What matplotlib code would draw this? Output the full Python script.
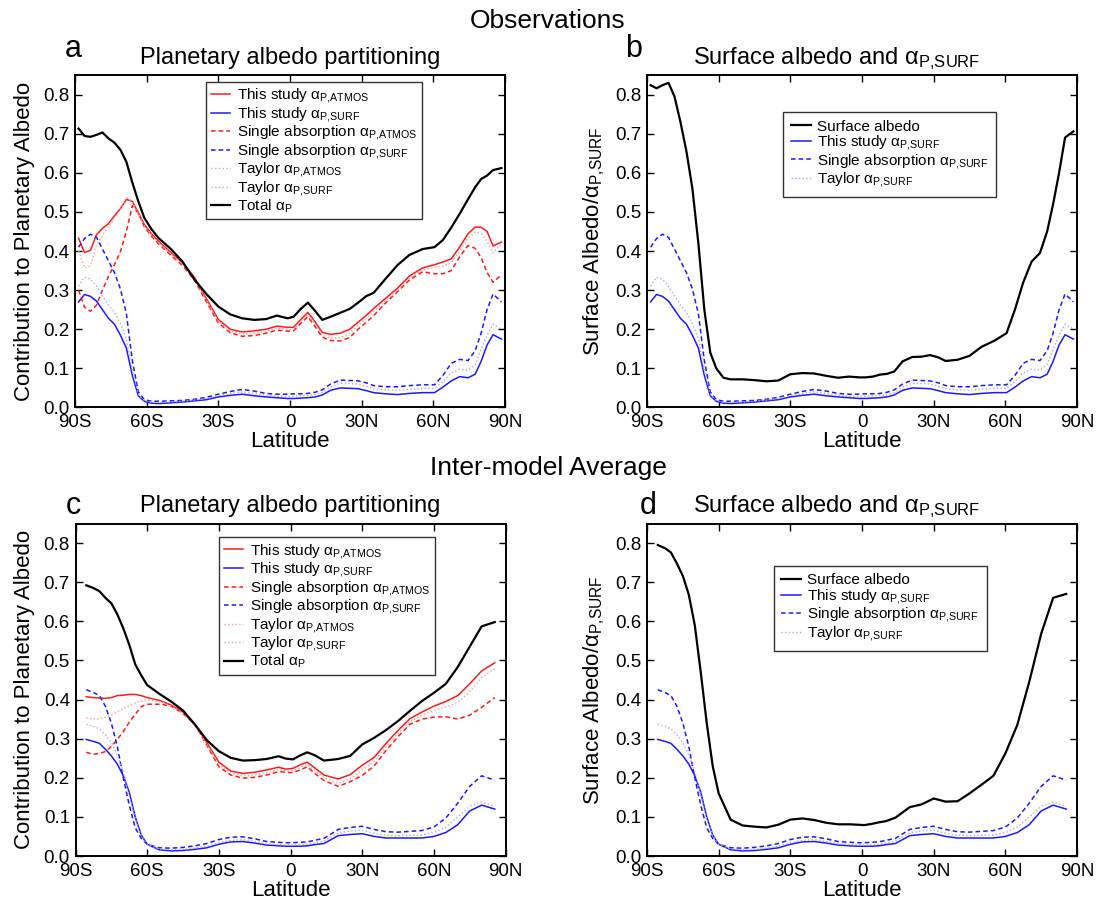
import numpy as np
import matplotlib
matplotlib.use("Agg")
import matplotlib.pyplot as plt

plt.rcParams['font.family'] = ['Liberation Sans', 'DejaVu Sans']
plt.rcParams['mathtext.fontset'] = 'custom'
plt.rcParams['mathtext.rm'] = 'Liberation Sans'
plt.rcParams['mathtext.it'] = 'Liberation Sans:italic'
plt.rcParams['mathtext.bf'] = 'Liberation Sans:bold'

# ---- Observations (panels a, b) ----
lat_obs = [-88.5, -86, -83.5, -81, -78.5, -76, -73.5, -71, -68.5, -66,
           -63.5, -61, -58, -55, -50, -45, -40, -35, -30, -25,
           -20, -15, -10, -5.5, -1, 1.5, 4.5, 7.5, 10.5, 13.5,
           17, 21, 25, 28.5, 32, 35, 40, 45, 50, 55.5,
           60.5, 64, 67.5, 71, 74.5, 77.5, 80, 82.5, 85, 88.5]
obs_total = [0.713, 0.694, 0.692, 0.697, 0.703, 0.688, 0.677, 0.659, 0.628, 0.575,
             0.527, 0.485, 0.456, 0.433, 0.406, 0.373, 0.327, 0.290, 0.258, 0.238,
             0.228, 0.224, 0.226, 0.235, 0.228, 0.232, 0.252, 0.268, 0.247, 0.224,
             0.232, 0.242, 0.252, 0.268, 0.285, 0.293, 0.329, 0.364, 0.390, 0.405,
             0.410, 0.428, 0.460, 0.495, 0.532, 0.563, 0.584, 0.593, 0.607, 0.612]
obs_atm = [0.433, 0.396, 0.402, 0.442, 0.458, 0.470, 0.490, 0.508, 0.532, 0.527,
           0.498, 0.468, 0.444, 0.425, 0.397, 0.370, 0.333, 0.278, 0.225, 0.200,
           0.193, 0.196, 0.200, 0.208, 0.205, 0.205, 0.225, 0.243, 0.219, 0.192,
           0.187, 0.190, 0.200, 0.218, 0.236, 0.253, 0.279, 0.305, 0.336, 0.357,
           0.365, 0.372, 0.380, 0.410, 0.444, 0.461, 0.461, 0.450, 0.413, 0.423]
obs_atm_single = [0.300, 0.256, 0.246, 0.262, 0.300, 0.335, 0.365, 0.398, 0.450, 0.516,
                  0.497, 0.462, 0.438, 0.418, 0.390, 0.363, 0.326, 0.270, 0.216, 0.191,
                  0.182, 0.184, 0.190, 0.198, 0.195, 0.196, 0.215, 0.232, 0.207, 0.180,
                  0.171, 0.170, 0.179, 0.200, 0.218, 0.235, 0.267, 0.296, 0.326, 0.347,
                  0.342, 0.342, 0.350, 0.385, 0.414, 0.407, 0.383, 0.345, 0.320, 0.339]
obs_atm_taylor = [0.400, 0.357, 0.362, 0.415, 0.440, 0.462, 0.485, 0.505, 0.538, 0.525,
                  0.495, 0.465, 0.441, 0.422, 0.394, 0.367, 0.330, 0.275, 0.221, 0.195,
                  0.187, 0.190, 0.195, 0.203, 0.200, 0.200, 0.220, 0.238, 0.213, 0.186,
                  0.178, 0.178, 0.190, 0.210, 0.228, 0.246, 0.273, 0.300, 0.331, 0.352,
                  0.358, 0.362, 0.370, 0.400, 0.433, 0.448, 0.445, 0.425, 0.395, 0.418]
obs_surf = [0.270, 0.289, 0.284, 0.272, 0.250, 0.228, 0.213, 0.185, 0.152, 0.082,
            0.030, 0.016, 0.011, 0.010, 0.012, 0.014, 0.017, 0.020, 0.027, 0.031,
            0.034, 0.030, 0.027, 0.025, 0.023, 0.023, 0.024, 0.025, 0.027, 0.032,
            0.044, 0.050, 0.049, 0.048, 0.043, 0.038, 0.035, 0.033, 0.036, 0.038,
            0.038, 0.052, 0.068, 0.079, 0.076, 0.085, 0.118, 0.160, 0.186, 0.175]
obs_surf_single = [0.410, 0.432, 0.443, 0.435, 0.405, 0.375, 0.345, 0.303, 0.240, 0.120,
                   0.040, 0.020, 0.016, 0.016, 0.017, 0.018, 0.021, 0.026, 0.034, 0.041,
                   0.046, 0.042, 0.036, 0.034, 0.034, 0.035, 0.035, 0.036, 0.039, 0.045,
                   0.060, 0.070, 0.069, 0.068, 0.063, 0.056, 0.053, 0.053, 0.056, 0.058,
                   0.058, 0.082, 0.113, 0.123, 0.120, 0.145, 0.190, 0.250, 0.290, 0.270]
obs_surf_taylor = [0.310, 0.333, 0.328, 0.310, 0.285, 0.262, 0.243, 0.215, 0.175, 0.095,
                   0.033, 0.018, 0.013, 0.013, 0.014, 0.016, 0.019, 0.023, 0.030, 0.036,
                   0.040, 0.036, 0.031, 0.029, 0.028, 0.029, 0.030, 0.031, 0.033, 0.038,
                   0.052, 0.062, 0.061, 0.060, 0.054, 0.048, 0.045, 0.044, 0.047, 0.049,
                   0.049, 0.066, 0.088, 0.098, 0.095, 0.110, 0.148, 0.185, 0.213, 0.200]
obs_sfc_albedo = [0.824, 0.816, 0.824, 0.830, 0.795, 0.730, 0.655, 0.560, 0.420, 0.250,
                  0.140, 0.100, 0.076, 0.072, 0.072, 0.070, 0.067, 0.069, 0.085, 0.088,
                  0.087, 0.081, 0.076, 0.079, 0.077, 0.077, 0.079, 0.084, 0.086, 0.092,
                  0.118, 0.129, 0.130, 0.134, 0.128, 0.119, 0.122, 0.132, 0.155, 0.171,
                  0.190, 0.250, 0.320, 0.373, 0.395, 0.450, 0.520, 0.600, 0.690, 0.706]

# ---- Inter-model average (panels c, d) ----
lat_mod = [-85.5, -82.5, -80, -77.5, -75, -72.5, -70, -67.5, -65, -62.5,
           -60, -55, -50, -45, -40, -35, -30, -25, -20, -15,
           -10, -5, -2, 1, 4, 7, 10, 14, 20, 25,
           30, 35, 40, 45, 50, 55, 60, 65, 70, 75,
           80, 85.5]
mod_total = [0.692, 0.685, 0.677, 0.660, 0.646, 0.618, 0.582, 0.540, 0.490, 0.462,
             0.437, 0.415, 0.395, 0.372, 0.336, 0.296, 0.268, 0.251, 0.244, 0.245,
             0.248, 0.255, 0.249, 0.247, 0.257, 0.265, 0.258, 0.244, 0.248, 0.256,
             0.285, 0.302, 0.322, 0.345, 0.371, 0.396, 0.417, 0.440, 0.483, 0.535,
             0.587, 0.598]
mod_atm = [0.407, 0.405, 0.404, 0.403, 0.405, 0.410, 0.411, 0.413, 0.413, 0.410,
           0.405, 0.398, 0.386, 0.368, 0.336, 0.290, 0.240, 0.217, 0.211, 0.214,
           0.220, 0.227, 0.222, 0.224, 0.233, 0.240, 0.226, 0.207, 0.197, 0.208,
           0.232, 0.252, 0.288, 0.321, 0.351, 0.368, 0.383, 0.395, 0.410, 0.440,
           0.473, 0.494]
mod_atm_single = [0.265, 0.260, 0.262, 0.267, 0.280, 0.298, 0.318, 0.342, 0.362, 0.382,
                  0.388, 0.388, 0.384, 0.364, 0.336, 0.283, 0.228, 0.207, 0.199, 0.201,
                  0.207, 0.216, 0.214, 0.213, 0.220, 0.228, 0.212, 0.193, 0.178, 0.190,
                  0.206, 0.230, 0.270, 0.305, 0.337, 0.350, 0.355, 0.356, 0.350, 0.360,
                  0.380, 0.405]
mod_atm_taylor = [0.353, 0.350, 0.351, 0.355, 0.360, 0.368, 0.377, 0.385, 0.391, 0.396,
                  0.399, 0.395, 0.384, 0.365, 0.334, 0.286, 0.234, 0.212, 0.205, 0.207,
                  0.213, 0.221, 0.218, 0.218, 0.226, 0.234, 0.219, 0.200, 0.186, 0.198,
                  0.220, 0.242, 0.280, 0.314, 0.344, 0.360, 0.372, 0.381, 0.392, 0.420,
                  0.456, 0.479]
mod_surf = [0.298, 0.293, 0.288, 0.273, 0.256, 0.235, 0.205, 0.163, 0.100, 0.054,
            0.030, 0.016, 0.013, 0.014, 0.017, 0.021, 0.030, 0.036, 0.037, 0.033,
            0.028, 0.026, 0.025, 0.025, 0.025, 0.026, 0.029, 0.032, 0.052, 0.055,
            0.057, 0.050, 0.046, 0.046, 0.046, 0.046, 0.050, 0.060, 0.080, 0.115,
            0.130, 0.120]
mod_surf_single = [0.425, 0.418, 0.410, 0.383, 0.340, 0.280, 0.200, 0.130, 0.072, 0.045,
                   0.030, 0.021, 0.020, 0.022, 0.026, 0.032, 0.042, 0.048, 0.049, 0.044,
                   0.037, 0.035, 0.034, 0.034, 0.035, 0.036, 0.040, 0.045, 0.068, 0.073,
                   0.076, 0.068, 0.062, 0.061, 0.063, 0.065, 0.074, 0.097, 0.135, 0.178,
                   0.205, 0.194]
mod_surf_taylor = [0.337, 0.331, 0.325, 0.310, 0.290, 0.258, 0.215, 0.155, 0.095, 0.052,
                   0.030, 0.018, 0.016, 0.017, 0.020, 0.025, 0.034, 0.040, 0.042, 0.037,
                   0.031, 0.029, 0.029, 0.028, 0.029, 0.030, 0.033, 0.038, 0.059, 0.064,
                   0.066, 0.058, 0.053, 0.052, 0.053, 0.054, 0.060, 0.074, 0.100, 0.127,
                   0.138, 0.127]
mod_sfc_albedo = [0.795, 0.787, 0.776, 0.748, 0.716, 0.668, 0.590, 0.470, 0.340, 0.230,
                  0.160, 0.093, 0.078, 0.075, 0.073, 0.080, 0.093, 0.096, 0.092, 0.085,
                  0.081, 0.081, 0.080, 0.079, 0.082, 0.086, 0.089, 0.098, 0.125, 0.132,
                  0.147, 0.139, 0.140, 0.160, 0.182, 0.205, 0.262, 0.335, 0.445, 0.568,
                  0.660, 0.670]

lat_ticks = [-90, -60, -30, 0, 30, 60, 90]
lat_labels = ['90S', '60S', '30S', '0', '30N', '60N', '90N']

ATM = r'$_{\mathrm{P{,}ATMOS}}$'
SRF = r'$_{\mathrm{P{,}SURF}}$'

RED = '#ff1a1a'
BLUE = '#1a1aff'
PINK = '#ff9d9d'
LBLUE = '#a8a8ff'
DASH = (0, (3, 2))


def style_axes(ax, ylabel):
    ax.set_xlim(-90, 90)
    ax.set_ylim(0, 0.85)
    ax.set_xticks(lat_ticks)
    ax.set_xticklabels(lat_labels)
    ax.set_yticks(np.arange(0, 0.81, 0.1))
    ax.set_yticklabels(['%.1f' % v for v in np.arange(0, 0.81, 0.1)])
    ax.tick_params(direction='in', length=5, width=1, top=True, right=True,
                   labelsize=13.5, pad=4)
    ax.tick_params(axis='x', pad=5)
    for s in ax.spines.values():
        s.set_linewidth(1.4)
    ax.set_xlabel('Latitude', fontsize=16, labelpad=0)
    ax.set_ylabel(ylabel, fontsize=16, labelpad=6)


def partition_panel(ax, lat, total, atm, surf, atm_s, surf_s, atm_t, surf_t, anchor):
    ax.plot(lat, atm, color=RED, lw=1.1, label='This study α' + ATM)
    ax.plot(lat, surf, color=BLUE, lw=1.1, label='This study α' + SRF)
    ax.plot(lat, atm_s, color=RED, lw=1.1, ls=DASH, label='Single absorption α' + ATM)
    ax.plot(lat, surf_s, color=BLUE, lw=1.1, ls=DASH, label='Single absorption α' + SRF)
    ax.plot(lat, atm_t, color=PINK, lw=1.0, ls=':', label='Taylor α' + ATM)
    ax.plot(lat, surf_t, color=LBLUE, lw=1.0, ls=':', label='Taylor α' + SRF)
    ax.plot(lat, total, color='black', lw=1.6, label=r'Total α$_{\mathrm{P}}$')
    style_axes(ax, 'Contribution to Planetary Albedo')
    leg = ax.legend(loc='upper left', bbox_to_anchor=anchor, fontsize=11,
                    handlelength=1.3, handletextpad=0.4, labelspacing=-0.03,
                    borderpad=0.3, fancybox=False, framealpha=1)
    leg.get_frame().set_edgecolor('#333333')
    leg.get_frame().set_linewidth(1.0)


def surface_panel(ax, lat, sfc, surf, surf_s, surf_t, anchor):
    ax.plot(lat, sfc, color='black', lw=1.6, label='Surface albedo')
    ax.plot(lat, surf, color=BLUE, lw=1.1, label='This study α' + SRF)
    ax.plot(lat, surf_s, color=BLUE, lw=1.1, ls=DASH, label='Single absorption α' + SRF)
    ax.plot(lat, surf_t, color=LBLUE, lw=1.0, ls=':', label='Taylor α' + SRF)
    style_axes(ax, 'Surface Albedo/α' + SRF)
    leg = ax.legend(loc='upper left', bbox_to_anchor=anchor, fontsize=11,
                    handlelength=1.3, handletextpad=0.4, labelspacing=-0.03,
                    borderpad=0.5, fancybox=False, framealpha=1)
    leg.get_frame().set_edgecolor('#333333')
    leg.get_frame().set_linewidth(1.0)


fig = plt.figure(figsize=(10.96, 9.05), dpi=100)
W, H = 1096.0, 905.0
aw, ah = 430 / W, 332.5 / H
ax_a = fig.add_axes([75 / W, 1 - 407.5 / H, aw, ah])
ax_b = fig.add_axes([647 / W, 1 - 407.5 / H, aw, ah])
ax_c = fig.add_axes([75.5 / W, 1 - 856 / H, aw, ah])
ax_d = fig.add_axes([647 / W, 1 - 856 / H, aw, ah])

partition_panel(ax_a, lat_obs, obs_total, obs_atm, obs_surf, obs_atm_single,
                obs_surf_single, obs_atm_taylor, obs_surf_taylor, (0.287, 1.003))
surface_panel(ax_b, lat_obs, obs_sfc_albedo, obs_surf, obs_surf_single,
              obs_surf_taylor, (0.299, 0.912))
partition_panel(ax_c, lat_mod, mod_total, mod_atm, mod_surf, mod_atm_single,
                mod_surf_single, mod_atm_taylor, mod_surf_taylor, (0.316, 0.982))
surface_panel(ax_d, lat_mod, mod_sfc_albedo, mod_surf, mod_surf_single,
              mod_surf_taylor, (0.277, 0.896))

ax_a.set_title('Planetary albedo partitioning', fontsize=17, pad=8)
ax_b.set_title('Surface albedo and α' + SRF, fontsize=17, pad=8, x=0.44)
ax_c.set_title('Planetary albedo partitioning', fontsize=17, pad=8)
ax_d.set_title('Surface albedo and α' + SRF, fontsize=17, pad=8, x=0.44)

fig.text(73 / W, 1 - 57 / H, 'a', fontsize=22, ha='center', va='baseline')
fig.text(634 / W, 1 - 57 / H, 'b', fontsize=22, ha='center', va='baseline')
fig.text(73 / W, 1 - 514 / H, 'c', fontsize=22, ha='center', va='baseline')
fig.text(648 / W, 1 - 514 / H, 'd', fontsize=22, ha='center', va='baseline')

fig.text(0.5, 1 - 21 / H, 'Observations', fontsize=19, ha='center', va='center')
fig.text(0.5, 1 - 468 / H, 'Inter-model Average', fontsize=19, ha='center', va='center')

fig.savefig('out.png', dpi=100)
